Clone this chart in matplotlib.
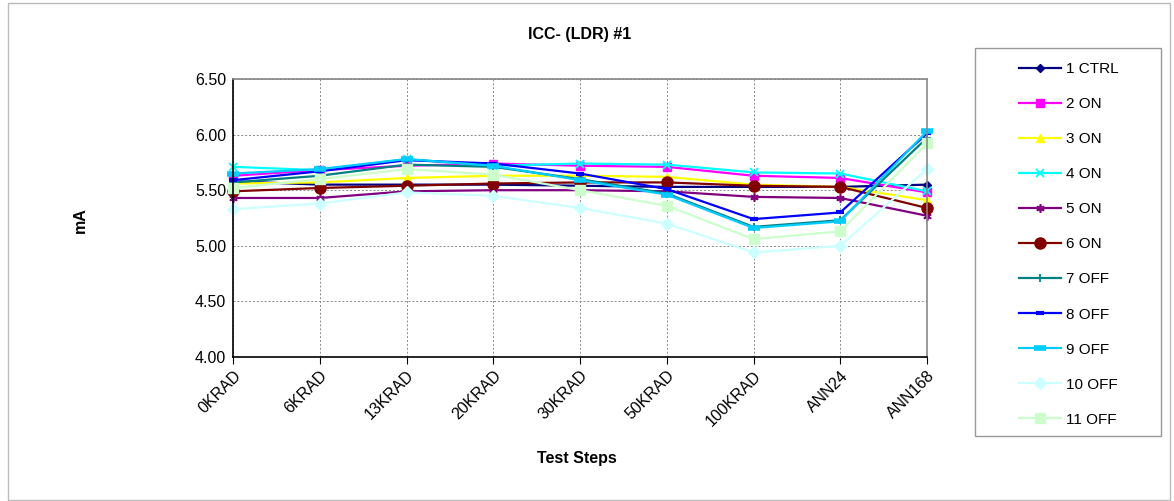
import matplotlib
matplotlib.use("Agg")
import matplotlib.pyplot as plt
from matplotlib.patches import Rectangle

plt.rcParams['font.family'] = ['Liberation Sans', 'DejaVu Sans']

steps = ["0KRAD", "6KRAD", "13KRAD", "20KRAD", "30KRAD", "50KRAD", "100KRAD", "ANN24", "ANN168"]

ctrl_1 = [5.58, 5.55, 5.55, 5.55, 5.54, 5.53, 5.53, 5.53, 5.55]
on_2 = [5.63, 5.68, 5.72, 5.74, 5.72, 5.71, 5.63, 5.61, 5.48]
on_3 = [5.56, 5.57, 5.61, 5.63, 5.63, 5.62, 5.55, 5.53, 5.41]
on_4 = [5.71, 5.68, 5.78, 5.72, 5.74, 5.73, 5.66, 5.65, 5.49]
on_5 = [5.43, 5.43, 5.49, 5.50, 5.50, 5.49, 5.44, 5.43, 5.27]
on_6 = [5.49, 5.52, 5.54, 5.56, 5.57, 5.57, 5.54, 5.53, 5.34]
off_7 = [5.57, 5.63, 5.73, 5.71, 5.60, 5.47, 5.17, 5.23, 5.97]
off_8 = [5.59, 5.67, 5.77, 5.74, 5.65, 5.51, 5.24, 5.30, 6.01]
off_9 = [5.65, 5.69, 5.78, 5.72, 5.59, 5.46, 5.16, 5.22, 6.03]
off_10 = [5.33, 5.38, 5.48, 5.45, 5.34, 5.20, 4.94, 5.00, 5.69]
off_11 = [5.52, 5.60, 5.69, 5.64, 5.50, 5.36, 5.06, 5.13, 5.92]

names = ["1 CTRL", "2 ON", "3 ON", "4 ON", "5 ON", "6 ON", "7 OFF", "8 OFF", "9 OFF", "10 OFF", "11 OFF"]
series = [ctrl_1, on_2, on_3, on_4, on_5, on_6, off_7, off_8, off_9, off_10, off_11]
colors = ["#000080", "#FF00FF", "#FFFF00", "#00FFFF", "#800080", "#800000",
          "#008080", "#0000FF", "#00CCFF", "#CCFFFF", "#CCFFCC"]
markers = ["D", "s", "^", "x", (6, 2, 0), "o", "+", "_", "_", "D", "s"]
msizes = [4.5, 6, 6, 6, 6, 8, 6, 6, 8, 6, 7]
mew = [1, 1, 1, 1.3, 1.2, 1, 1.3, 3, 4, 1, 1]

fig = plt.figure(figsize=(11.74, 5.01), dpi=100)
W, H = 1174, 501
ax = fig.add_axes([233 / W, 1 - 357 / H, (927 - 233) / W, (357 - 79) / H])

x = list(range(len(steps)))
for s, n, c, m, ms, mw in zip(series, names, colors, markers, msizes, mew):
    ax.plot(x, s, color=c, marker=m, markersize=ms, markeredgewidth=mw,
            markeredgecolor=c, markerfacecolor=c, linewidth=1.6, label=n,
            clip_on=False)

ax.set_xlim(0, 8)
ax.set_ylim(4.0, 6.5)
ax.set_yticks([4.0, 4.5, 5.0, 5.5, 6.0, 6.5])
ax.set_yticklabels(["%.2f" % v for v in [4.0, 4.5, 5.0, 5.5, 6.0, 6.5]], fontsize=11.5)
ax.set_xticks(x)
ax.set_xticklabels(steps, rotation=45, ha='right', rotation_mode='anchor', fontsize=11.5)
ax.tick_params(axis='x', length=5, direction='out', pad=3)
ax.tick_params(axis='y', length=0, pad=5)
ax.grid(True, color='#888888', linestyle=(0, (2, 2)), linewidth=0.7)
ax.set_axisbelow(True)
ax.spines['left'].set_color('black')
ax.spines['bottom'].set_color('black')
ax.spines['top'].set_color('#888888')
ax.spines['right'].set_color('#888888')
for sp in ax.spines.values():
    sp.set_linewidth(1.2)

fig.text(580 / W, 1 - 34 / H, "ICC- (LDR) #1", ha='center', va='center', fontsize=11.5, fontweight='bold')
fig.text(80 / W, 1 - 220 / H, "mA", ha='center', va='center', rotation=90, fontsize=11.5, fontweight='bold')
fig.text(577 / W, 1 - 459 / H, "Test Steps", ha='center', va='center', fontsize=11.5, fontweight='bold')

# outer chart border
fig.add_artist(Rectangle((8 / W, 1 / H), (1170 - 8) / W, (498 - 1) / H, transform=fig.transFigure,
                         fill=False, edgecolor='#BBBBBB', linewidth=1))

# legend frame
fig.add_artist(Rectangle((975 / W, 1 - 436 / H), (1161 - 975) / W, (436 - 48) / H,
                         transform=fig.transFigure, fill=False, edgecolor='#999999', linewidth=1))

leg = fig.legend(loc='upper left', bbox_to_anchor=(1019 / W, 1 - 62 / H), fontsize=11,
                 frameon=False, borderpad=0, labelspacing=1.38, handlelength=2.75,
                 handletextpad=0.33, borderaxespad=0)

fig.savefig("out.png", dpi=100)
